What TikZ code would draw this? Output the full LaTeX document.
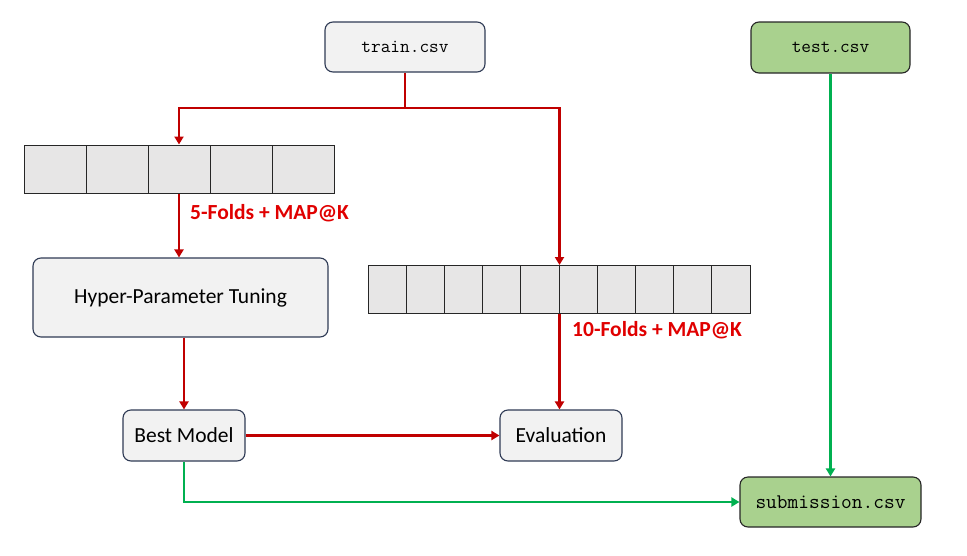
\documentclass[tikz,border=0pt]{standalone}
\usepackage{fontspec}
\setmainfont{Carlito}
\usetikzlibrary{arrows.meta}
\definecolor{linered}{HTML}{C00000}
\definecolor{labelred}{HTML}{E00000}
\definecolor{linegreen}{HTML}{00B050}
\definecolor{boxfill}{HTML}{F2F2F2}
\definecolor{boxborder}{HTML}{2F3B55}
\definecolor{greenfill}{HTML}{A9D18E}
\definecolor{cellfill}{HTML}{E7E6E6}
\tikzset{
  procbox/.style={draw=boxborder, fill=boxfill, rounded corners=8pt, line width=1.1pt, inner sep=0pt, font=\fontsize{21.5}{24}\selectfont},
  filebox/.style={draw=boxborder, fill=boxfill, rounded corners=8pt, line width=1.1pt, inner sep=0pt, font=\ttfamily\fontsize{18.8}{21}\selectfont},
  greenbox/.style={draw=black!85, fill=greenfill, rounded corners=8pt, line width=1.1pt, inner sep=0pt, font=\ttfamily\fontsize{18.8}{21}\selectfont},
  cell/.style={draw=black!85, fill=cellfill, line width=1pt, inner sep=0pt, minimum height=48pt},
  redline/.style={draw=linered, line width=2.8pt, -{Triangle[length=8pt,width=9pt]}},
  redplain/.style={draw=linered, line width=2.8pt},
  greenline/.style={draw=linegreen, line width=2.8pt, -{Triangle[length=8pt,width=9pt]}},
  foldlabel/.style={text=labelred, font=\bfseries\fontsize{21.5}{24}\selectfont, anchor=west, inner sep=0pt}
}
\begin{document}
\begin{tikzpicture}[x=1pt,y=-1pt]
\useasboundingbox (0,0) rectangle (967,555);
% nodes
\node[filebox, minimum width=160pt, minimum height=50pt] (train) at (405,47) {train.csv};
\node[greenbox, minimum width=159pt, minimum height=51pt] (test) at (830.5,47.5) {test.csv};
\foreach \i in {1,...,5} {
  \node[cell, minimum width=62pt] (f\i) at ({24+62*(\i-0.5)},169) {};
}
\foreach \i in {1,...,10} {
  \node[cell, minimum width=38.2pt] (g\i) at ({368+38.2*(\i-0.5)},289.5) {};
}
\node[procbox, minimum width=295pt, minimum height=79pt] (hyp) at (180.5,297.5) {Hyper-Parameter Tuning};
\node[procbox, minimum width=122pt, minimum height=51pt] (best) at (184,435.5) {Best Model};
\node[procbox, minimum width=122pt, minimum height=51pt] (eval) at (561,435.5) {Evaluation};
\node[greenbox, minimum width=181pt, minimum height=50pt, font=\ttfamily\fontsize{20.8}{23}\selectfont] (sub) at (830.5,502) {submission.csv};
\node[foldlabel] (l5) at (190,213) {5-Folds + MAP@K};
\node[foldlabel] (l10) at (572,330) {10-Folds + MAP@K};
\coordinate (split) at (405,108);
% red connectors
\draw[redplain] (train.south) -- (split);
\draw[redline] (split) -| (f3.north);
\draw[redline] (split) -| (g5.north east);
\draw[redline] (f3.south) -- (f3.south |- hyp.north);
\draw[redline] (best.north |- hyp.south) -- (best.north);
\draw[redline] (g5.south east) -- (g5.south east |- eval.north);
\draw[redline] (best.east) -- (eval.west);
% green connectors
\draw[greenline] (test.south) -- (sub.north);
\draw[greenline] (best.south) |- (sub.west);
\end{tikzpicture}
\end{document}
